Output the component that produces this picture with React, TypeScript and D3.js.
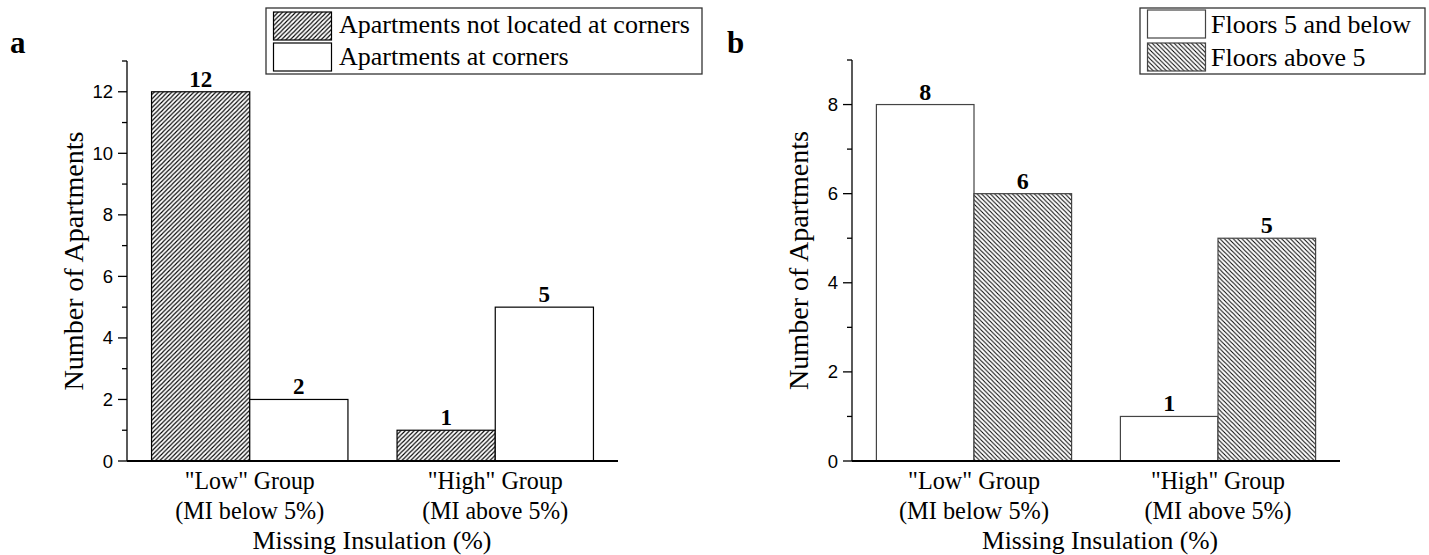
import React from "react";
import * as d3 from "d3";

const categories = ['"Low" Group', '"High" Group'];
const subLabels = ["(MI below 5%)", "(MI above 5%)"];
const xTitle = "Missing Insulation (%)";
const yTitle = "Number of Apartments";

const seriesANames = ["Apartments not located at corners", "Apartments at corners"];
const notCorners = [12, 1];
const atCorners = [2, 5];

const seriesBNames = ["Floors 5 and below", "Floors above 5"];
const floorsLow = [8, 1];
const floorsHigh = [6, 5];

const ticksA = [0, 2, 4, 6, 8, 10, 12];
const ticksB = [0, 2, 4, 6, 8];

const SERIF = "'Liberation Serif', 'Times New Roman', serif";
const SANS = "'Liberation Sans', Arial, sans-serif";

type Layout = {
  letter: string;
  letterX: number;
  xRange: [number, number];
  yRange: [number, number];
  yMax: number;
  stroke: string;
  valueSize: number;
  legend: { x: number; y: number; w: number; h: number; sw: number; sy: number[]; sh: number; ty: number[]; tx: number };
  yLabelX: number;
  xTitleX: number;
  catLen: number[];
  subLen: number[];
  xTitleLen: number;
};

function Panel({ L, ticks, s1, s2, fills, names }: { L: Layout; ticks: number[]; s1: number[]; s2: number[]; fills: [string, string]; names: string[] }) {
  const x = d3.scaleLinear().domain([0.5, 2.5]).range(L.xRange);
  const y = d3.scaleLinear().domain([0, L.yMax]).range(L.yRange);
  const bw = x(1.4) - x(1);
  const minor = d3.range(1, L.yMax + 1, 2);
  const series = [s1, s2];
  const x0 = L.xRange[0];
  return (
    <g>
      <text x={L.letterX} y={53} fontFamily={SERIF} fontWeight="bold" fontSize={31}>
        {L.letter}
      </text>
      {series.map((s, si) =>
        s.map((v, i) => {
          const bx = x(i + 1) - bw + si * bw;
          return (
            <g key={`${si}-${i}`}>
              <rect x={bx} y={y(v)} width={bw} height={y(0) - y(v)} fill={fills[si]} stroke={L.stroke} strokeWidth={1.2} />
              <text x={bx + bw / 2} y={y(v) - 5} textAnchor="middle" fontFamily={SERIF} fontWeight="bold" fontSize={L.valueSize}>
                {v}
              </text>
            </g>
          );
        })
      )}
      <line x1={x0} x2={x0} y1={y(0)} y2={y(L.yMax)} stroke="#000" strokeWidth={1.3} />
      {ticks.map((t) => (
        <g key={t}>
          <line x1={x0 - 9} x2={x0} y1={y(t)} y2={y(t)} stroke="#000" strokeWidth={1.3} />
          <text x={x0 - 14} y={y(t) + 6.5} textAnchor="end" fontFamily={SANS} fontSize={18.5}>
            {t}
          </text>
        </g>
      ))}
      {minor.map((t) => (
        <line key={t} x1={x0 - 5} x2={x0} y1={y(t)} y2={y(t)} stroke="#000" strokeWidth={1.3} />
      ))}
      <line x1={x0} x2={L.xRange[1]} y1={y(0)} y2={y(0)} stroke="#000" strokeWidth={2.2} />
      {categories.map((c, i) => (
        <g key={c}>
          <text x={x(i + 1)} y={489} textAnchor="middle" fontFamily={SERIF} fontSize={25} textLength={L.catLen[i]} lengthAdjust="spacingAndGlyphs">
            {c}
          </text>
          <text x={x(i + 1)} y={519} textAnchor="middle" fontFamily={SERIF} fontSize={25} textLength={L.subLen[i]} lengthAdjust="spacingAndGlyphs">
            {subLabels[i]}
          </text>
        </g>
      ))}
      <text x={L.xTitleX} y={549} textAnchor="middle" fontFamily={SERIF} fontSize={26} textLength={L.xTitleLen} lengthAdjust="spacingAndGlyphs">
        {xTitle}
      </text>
      <text
        transform={`translate(${L.yLabelX},${(y(0) + y(L.yMax)) / 2}) rotate(-90)`}
        textAnchor="middle"
        fontFamily={SERIF}
        fontSize={28}
        textLength={259}
        lengthAdjust="spacingAndGlyphs"
      >
        {yTitle}
      </text>
      <rect x={L.legend.x} y={L.legend.y} width={L.legend.w} height={L.legend.h} fill="#fff" stroke="#333" strokeWidth={1.3} />
      {names.map((n, i) => (
        <g key={n}>
          <rect x={L.legend.x + 7.5} y={L.legend.sy[i]} width={L.legend.sw} height={L.legend.sh} fill={fills[i]} stroke={L.stroke} strokeWidth={1.2} />
          <text x={L.legend.tx} y={L.legend.ty[i]} fontFamily={SERIF} fontSize={26}>
            {n}
          </text>
        </g>
      ))}
    </g>
  );
}

const layoutA: Layout = {
  letter: "a",
  letterX: 10,
  xRange: [127, 618],
  yRange: [461, 61],
  yMax: 13,
  stroke: "#000",
  valueSize: 23,
  legend: { x: 266, y: 8, w: 436, h: 66, sw: 58, sy: [12, 43], sh: 28, ty: [33, 65], tx: 339 },
  yLabelX: 83,
  xTitleX: 372,
  catLen: [130, 135],
  subLen: [149, 146],
  xTitleLen: 239,
};

const layoutB: Layout = {
  letter: "b",
  letterX: 727,
  xRange: [852, 1340],
  yRange: [461, 60],
  yMax: 9,
  stroke: "#444",
  valueSize: 24,
  legend: { x: 1140, y: 8, w: 285, h: 66, sw: 58, sy: [10, 43], sh: 28, ty: [33, 66], tx: 1211 },
  yLabelX: 808,
  xTitleX: 1100,
  catLen: [132, 134],
  subLen: [150, 147],
  xTitleLen: 236,
};

export default function App() {
  return (
    <svg width={1429} height={555} style={{ position: "absolute", left: 0, top: 0, background: "#fff" }}>
      <defs>
        <pattern id="hatchA" patternUnits="userSpaceOnUse" width={4.4} height={4.4}>
          <rect width={4.4} height={4.4} fill="#fff" />
          <path d="M-1,1 l2,-2 M0,4.4 l4.4,-4.4 M3.4,5.4 l2,-2" stroke="#000" strokeWidth={1.1} />
        </pattern>
        <pattern id="hatchB" patternUnits="userSpaceOnUse" width={4.4} height={4.4}>
          <rect width={4.4} height={4.4} fill="#fff" />
          <path d="M-1,3.4 l2,2 M0,0 l4.4,4.4 M3.4,-1 l2,2" stroke="#000" strokeWidth={1} />
        </pattern>
      </defs>
      <Panel L={layoutA} ticks={ticksA} s1={notCorners} s2={atCorners} fills={["url(#hatchA)", "#fff"]} names={seriesANames} />
      <Panel L={layoutB} ticks={ticksB} s1={floorsLow} s2={floorsHigh} fills={["#fff", "url(#hatchB)"]} names={seriesBNames} />
    </svg>
  );
}
